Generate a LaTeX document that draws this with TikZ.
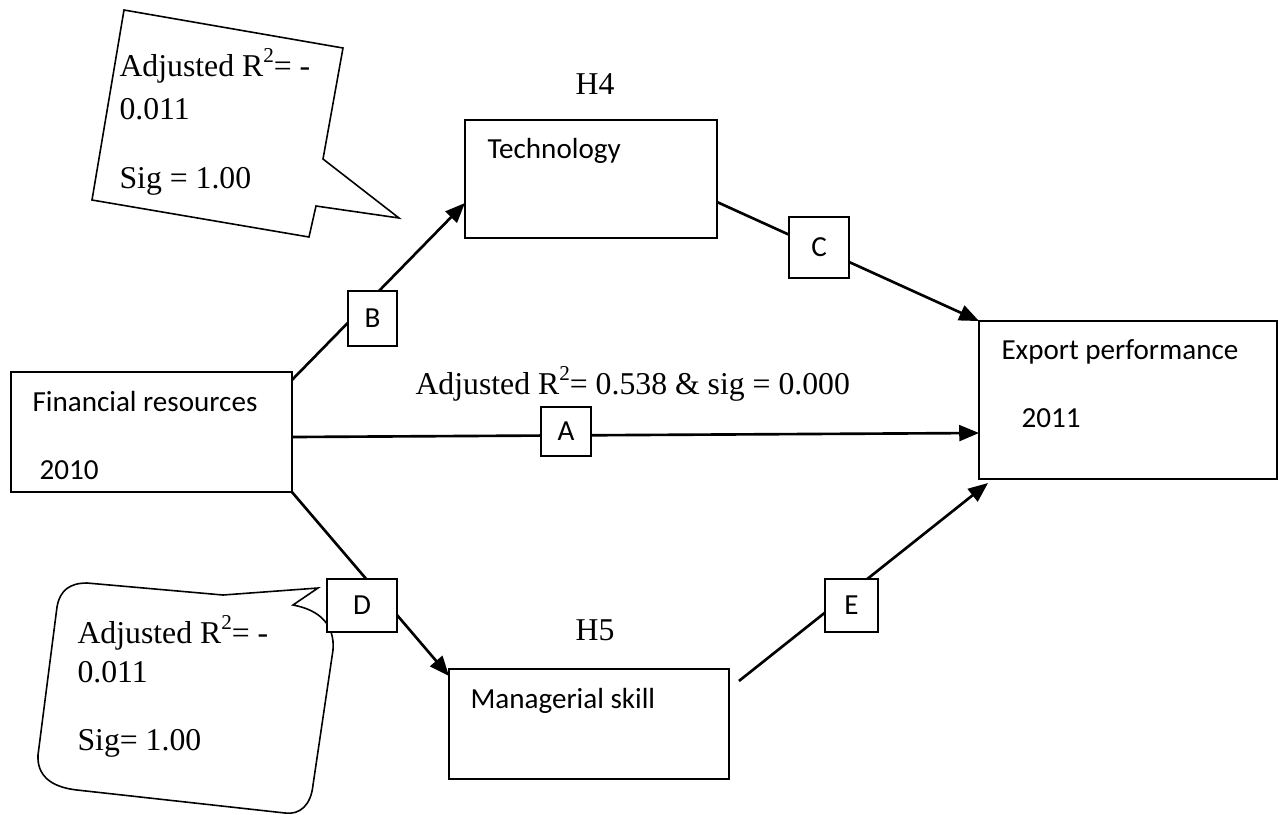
\documentclass[tikz,border=0pt]{standalone}
\usepackage{fontspec}
\setmainfont{Liberation Serif}
\newfontfamily\calibri{Carlito}
\usetikzlibrary{arrows.meta,calc,positioning}
\newcommand{\sqr}{\raisebox{0.95ex}{\fontsize{8}{9}\selectfont 2}}

\begin{document}
\begin{tikzpicture}[x=0.378pt, y=-0.378pt,
      bx/.style={draw, line width=0.7pt, inner sep=0pt, outer sep=0pt},
      lbl/.style={draw, fill=white, line width=0.7pt, inner sep=0pt, outer sep=0pt,
                  font=\calibri\fontsize{11}{13}\selectfont},
      txt/.style={inner sep=0pt, anchor=base west, font=\calibri\fontsize{11}{13}\selectfont},
      tms/.style={inner sep=0pt, anchor=base west, font=\fontsize{12}{14}\selectfont},
      arr/.style={-{Triangle[length=7.5pt,width=6pt]}, line width=1pt},
      bubble/.style={draw, line width=0.6pt}
    ]
      \useasboundingbox (0,0) rectangle (1283,814);
      % Callout top left
      \draw[bubble] (124,10) -- (343,48) -- (323,159) -- (399,218) -- (316,206)
        -- (309,237) -- (92,200) -- cycle;
      \node[tms] (fit1) at (119,76) {Adjusted R\sqr= -};
      \node[tms] (fit1b) at (119,119) {0.011};
      \node[tms] (sig1) at (119,188) {Sig = 1.00};
      % Callout bottom left
      \draw[bubble] (57,607) .. controls (60,590) and (70,583) .. (87,583) -- (223,595)
        -- (318,588) -- (293,605) .. controls (320,610) and (335,625) .. (333,650)
        -- (313,785) .. controls (311,805) and (300,815) .. (285,813) -- (77,790)
        .. controls (50,787) and (37,775) .. (38,755) -- cycle;
      \node[tms] (fit2) at (77,643) {Adjusted R\sqr= -};
      \node[tms] (fit2b) at (77,682) {0.011};
      \node[tms] (sig2) at (77,750) {Sig= 1.00};
      % Boxes
      \node[bx, minimum width=106.2pt, minimum height=45.4pt] (fin) at (151.5,432) {};
      \node[txt] (finT) at (32,411) {Financial resources};
      \node[txt] (finY) at (39,479) {2010};
      \node[bx, minimum width=95.3pt, minimum height=44.6pt] (tech) at (591,179) {};
      \node[txt] (techT) at (487,158) {Technology};
      \node[tms, anchor=base] (h4) at (595,94) {H4};
      \node[bx, minimum width=105.8pt, minimum height=41.6pt] (mgr) at (589,724) {};
      \node[txt] (mgrT) at (470,708) {Managerial skill};
      \node[tms, anchor=base] (h5) at (595,640) {H5};
      \node[bx, minimum width=112.6pt, minimum height=59.7pt] (exp) at (1128,400) {};
      \node[txt] (expT) at (1001,359) {Export performance};
      \node[txt] (expY) at (1021,427) {2011};
      % Arrows
      \draw[arr] ($(fin.north east)+(0,8)$) -- ($(tech.north west)+(0,83)$);
      \draw[arr] ($(tech.north east)+(0,82)$) -- (exp.north west);
      \draw[arr] ($(fin.east)+(0,5)$) -- ($(exp.west)+(0,33)$);
      \draw[arr] (fin.south east) -- ($(mgr.north west)+(0,7)$);
      \draw[arr] ($(mgr.north east)+(10,12)$) -- ($(exp.south west)+(9,4)$);
      \node[tms] (r2) at (415,394) {Adjusted R\sqr= 0.538 \& sig = 0.000};
      % Path labels
      \node[lbl, minimum width=19pt, minimum height=18.5pt] (A) at (566,431.5) {A};
      \node[lbl, minimum width=18.5pt, minimum height=20.8pt] (B) at (372.5,318.5) {B};
      \node[lbl, minimum width=22.7pt, minimum height=23pt] (C) at (819,247.5) {C};
      \node[lbl, minimum width=26.5pt, minimum height=20pt] (D) at (362,605.5) {D};
      \node[lbl, minimum width=20pt, minimum height=20pt] (E) at (851.5,605.5) {E};
    \end{tikzpicture}
\end{document}
